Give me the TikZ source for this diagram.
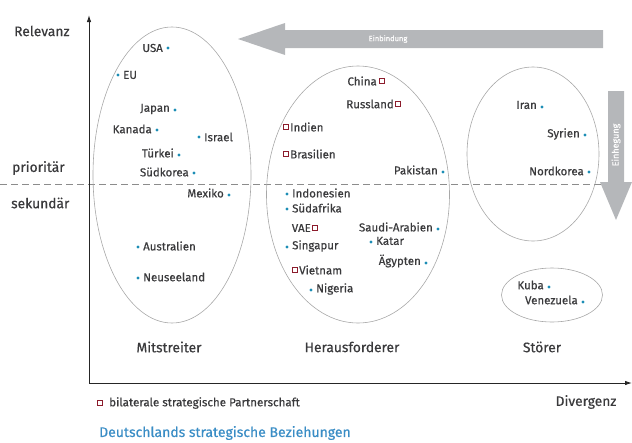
\documentclass[tikz,border=0pt]{standalone}
\usepackage{fontspec}
\setmainfont{Fira Sans}[FakeBold=0.5]
\usetikzlibrary{arrows.meta,shapes.geometric}
\definecolor{txt}{HTML}{3A3A3C}
\definecolor{dotblue}{HTML}{1C8DB5}
\definecolor{sqred}{HTML}{8C1C2C}
\definecolor{arrgray}{HTML}{B5B7BA}
\definecolor{ellgray}{HTML}{A8A8A8}
\definecolor{titleblue}{HTML}{3A8DC5}
\tikzset{
  country/.style={inner sep=0pt, text=txt, font=\fontsize{11.5}{13}\selectfont},
  axislabel/.style={inner sep=0pt, text=txt, font=\fontsize{13.8}{16}\selectfont},
  bdot/.style={circle, fill=dotblue, inner sep=0pt, minimum size=3.4pt},
  rsq/.style={rectangle, draw=sqred, fill=white, line width=1pt, inner sep=0pt, minimum size=4.2pt},
  grp/.style={draw=ellgray, line width=0.6pt},
  bigarrow/.style={fill=arrgray, draw=none},
  axis/.style={draw=black!85, line width=0.9pt, -{Latex[length=7pt,width=4.5pt]}},
}
\begin{document}
\begin{tikzpicture}[x=1pt,y=-1pt]
\useasboundingbox (0,0) rectangle (632,442);

% dashed divider
\coordinate (dashL) at (0,184);
\coordinate (dashR) at (604,184);
\draw[gray!90, line width=0.7pt, dash pattern=on 7pt off 4pt] (dashL) -- (dashR);

% ellipses
\node[grp, ellipse, minimum width=158pt, minimum height=296pt] (mit) at (172,175) {};
\node[grp, ellipse, minimum width=183pt, minimum height=257pt] (her) at (358,194.5) {};
\node[grp, ellipse, minimum width=132pt, minimum height=174pt] (stoe) at (533,154) {};
\node[grp, ellipse, minimum width=101pt, minimum height=54pt] (kub) at (552,295) {};

% axes
\coordinate (orig) at (89,383);
\coordinate (ytop) at (89,15);
\coordinate (xend) at (632,383);
\draw[axis] (orig) -- (ytop);
\draw[axis] (orig) -- (xend);

% big gray arrows
\fill[bigarrow] (603,30) -- (285,30) -- (285,23) -- (238,39) -- (285,55) -- (285,48) -- (603,48) -- cycle;
\node[inner sep=0pt, text=white, font=\fontsize{7.5}{9}\selectfont] (einb) at (388,39) {Einbindung};
\fill[bigarrow] (608,91) -- (624,91) -- (624,182) -- (632,182) -- (616,220) -- (600,182) -- (608,182) -- cycle;
\node[inner sep=0pt, text=white, rotate=90, font=\fontsize{9}{10}\selectfont] (einh) at (616,145) {Einhegung};

% axis labels
\node[axislabel, anchor=west] (rel) at (14,31) {Relevanz};
\node[axislabel, anchor=west] (prio) at (12,168) {prioritär};
\node[axislabel, anchor=west] (sek) at (11,203) {sekundär};
\node[axislabel] (lmit) at (169,347) {Mitstreiter};
\node[axislabel] (lher) at (352,347) {Herausforderer};
\node[axislabel] (lsto) at (542,347) {Störer};
\node[axislabel] (div) at (586,402) {Divergenz};

% Mitstreiter
\node[bdot] (dUSA) at (168,48) {};
\node[country, anchor=east] (USA) at (163,48) {USA};
\node[bdot] (dEU) at (118,75) {};
\node[country, anchor=west] (EU) at (123,75) {EU};
\node[bdot] (dJapan) at (175,110) {};
\node[country, anchor=east] (Japan) at (170,109) {Japan};
\node[bdot] (dKanada) at (157,130) {};
\node[country, anchor=east] (Kanada) at (152,129) {Kanada};
\node[bdot] (dIsrael) at (199,137) {};
\node[country, anchor=west] (Israel) at (204,137) {Israel};
\node[bdot] (dTuerkei) at (179,155) {};
\node[country, anchor=east] (Tuerkei) at (174,153) {Türkei};
\node[bdot] (dSuedkorea) at (194,173) {};
\node[country, anchor=east] (Suedkorea) at (189,172) {Südkorea};
\node[bdot] (dMexiko) at (229,195) {};
\node[country, anchor=east] (Mexiko) at (224,193) {Mexiko};
\node[bdot] (dAustralien) at (138,247) {};
\node[country, anchor=west] (Australien) at (143,246) {Australien};
\node[bdot] (dNeuseeland) at (138,278) {};
\node[country, anchor=west] (Neuseeland) at (143,277) {Neuseeland};

% Herausforderer
\node[rsq] (sChina) at (382,81) {};
\node[country, anchor=east] (China) at (377,81) {China};
\node[rsq] (sRussland) at (398,104) {};
\node[country, anchor=east] (Russland) at (394,104) {Russland};
\node[rsq] (sIndien) at (286,127) {};
\node[country, anchor=west] (Indien) at (290,127) {Indien};
\node[rsq] (sBrasilien) at (286,154) {};
\node[country, anchor=west] (Brasilien) at (290,154) {Brasilien};
\node[bdot] (dPakistan) at (443,172) {};
\node[country, anchor=east] (Pakistan) at (438,170) {Pakistan};
\node[bdot] (dIndonesien) at (287,194) {};
\node[country, anchor=west] (Indonesien) at (292,193) {Indonesien};
\node[bdot] (dSuedafrika) at (287,209) {};
\node[country, anchor=west] (Suedafrika) at (292,208) {Südafrika};
\node[rsq] (sVAE) at (315,228) {};
\node[country, anchor=east] (VAE) at (311,228) {VAE};
\node[bdot] (dSaudi) at (438,229) {};
\node[country, anchor=east] (Saudi) at (433,227) {Saudi-Arabien};
\node[bdot] (dKatar) at (371,242) {};
\node[country, anchor=west] (Katar) at (376,241) {Katar};
\node[bdot] (dSingapur) at (287,247) {};
\node[country, anchor=west] (Singapur) at (292,246) {Singapur};
\node[bdot] (dAegypten) at (426,263) {};
\node[country, anchor=east] (Aegypten) at (421,261) {Ägypten};
\node[rsq] (sVietnam) at (295,270) {};
\node[country, anchor=west] (Vietnam) at (299,270) {Vietnam};
\node[bdot] (dNigeria) at (311,290) {};
\node[country, anchor=west] (Nigeria) at (316,289) {Nigeria};

% Stoerer
\node[bdot] (dIran) at (542,107) {};
\node[country, anchor=east] (Iran) at (537,105) {Iran};
\node[bdot] (dSyrien) at (585,135) {};
\node[country, anchor=east] (Syrien) at (580,134) {Syrien};
\node[bdot] (dNordkorea) at (589,172) {};
\node[country, anchor=east] (Nordkorea) at (584,171) {Nordkorea};
\node[bdot] (dKuba) at (549,287) {};
\node[country, anchor=east] (Kuba) at (544,285) {Kuba};
\node[bdot] (dVenezuela) at (583,302) {};
\node[country, anchor=east] (Venezuela) at (578,300) {Venezuela};

% legend and title
\node[rsq] (legsq) at (100,403) {};
\node[inner sep=0pt, anchor=west, text=txt, font=\fontsize{11.6}{13}\selectfont] (legtxt) at (109,403) {bilaterale strategische Partnerschaft};
\node[inner sep=0pt, anchor=west, text=titleblue, font=\fontsize{14}{16}\selectfont] (title) at (99,433) {Deutschlands strategische Beziehungen};
\end{tikzpicture}
\end{document}
